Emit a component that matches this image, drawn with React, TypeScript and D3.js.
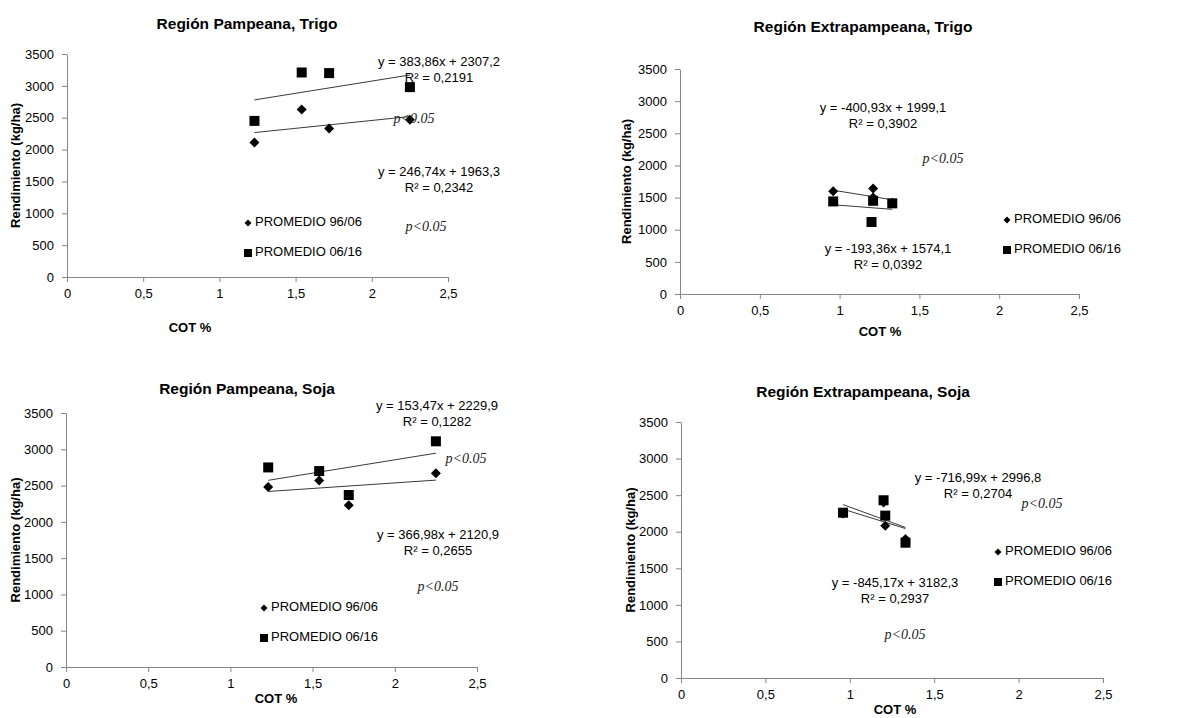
import * as d3 from "d3";
import { useEffect, useRef } from "react";

// axis ticks shared by the four panels
const xTicks = [0, 0.5, 1, 1.5, 2, 2.5];
const xTickLabels = ["0", "0,5", "1", "1,5", "2", "2,5"];
const yTicks = [0, 500, 1000, 1500, 2000, 2500, 3000, 3500];

const titles = [
  "Región Pampeana, Trigo",
  "Región Extrapampeana, Trigo",
  "Región Pampeana, Soja",
  "Región Extrapampeana, Soja",
];
const seriesNames = ["PROMEDIO 96/06", "PROMEDIO 06/16"];

// COT % per point (96/06 and 06/16)
const cot9606 = [
  [1.23, 1.54, 1.72, 2.25],
  [0.96, 1.21, 1.21, 1.33],
  [1.23, 1.54, 1.72, 2.25],
  [0.96, 1.21, 1.2, 1.33],
];
const cot0616 = [
  [1.23, 1.54, 1.72, 2.25],
  [0.96, 1.21, 1.2, 1.33],
  [1.23, 1.54, 1.72, 2.25],
  [0.96, 1.2, 1.21, 1.33],
];
// rendimiento kg/ha
const rend9606 = [
  [2110, 2630, 2330, 2470],
  [1600, 1640, 1500, 1420],
  [2480, 2570, 2230, 2670],
  [2250, 2080, 2400, 1900],
];
const rend0616 = [
  [2450, 3210, 3200, 2980],
  [1440, 1450, 1120, 1410],
  [2750, 2700, 2370, 3110],
  [2260, 2430, 2220, 1850],
];

// linear trend lines (slope, intercept) for each series
const slope9606 = [246.74, -400.93, 153.47, -716.99];
const inter9606 = [1963.3, 1999.1, 2229.9, 2996.8];
const slope0616 = [383.86, -193.36, 366.98, -845.17];
const inter0616 = [2307.2, 1574.1, 2120.9, 3182.3];

// equation labels, top one first
const eqTop = ["y = 383,86x + 2307,2", "y = -400,93x + 1999,1", "y = 153,47x + 2229,9", "y = -716,99x + 2996,8"];
const r2Top = ["R² = 0,2191", "R² = 0,3902", "R² = 0,1282", "R² = 0,2704"];
const eqBottom = ["y = 246,74x + 1963,3", "y = -193,36x + 1574,1", "y = 366,98x + 2120,9", "y = -845,17x + 3182,3"];
const r2Bottom = ["R² = 0,2342", "R² = 0,0392", "R² = 0,2655", "R² = 0,2937"];

// page layout of each panel
const layout = [
  {
    left: 67, right: 448, top: 54, bottom: 277,
    title: [247, 25], yTitleX: 17, xTitle: [190, 329],
    eqTop: [439, 63], eqBottom: [439, 173], pTop: [414, 120], pBottom: [426, 228],
    legend: [248, 223],
  },
  {
    left: 680, right: 1079, top: 69, bottom: 294,
    title: [863, 28], yTitleX: 628, xTitle: [880, 333],
    eqTop: [883, 109], eqBottom: [888, 250], pTop: [943, 160], pBottom: null,
    legend: [1007, 220],
  },
  {
    left: 66, right: 477, top: 413, bottom: 667,
    title: [247, 390], yTitleX: 17, xTitle: [276, 700],
    eqTop: [437, 407], eqBottom: [438, 536], pTop: [466, 460], pBottom: [438, 588],
    legend: [264, 608],
  },
  {
    left: 681, right: 1103, top: 422, bottom: 678,
    title: [863, 393], yTitleX: 632, xTitle: [895, 711],
    eqTop: [978, 479], eqBottom: [895, 584], pTop: [1042, 505], pBottom: [905, 636],
    legend: [998, 552],
  },
];

const FONT = "'Liberation Sans', Arial, sans-serif";
const diamondPath = (r) => `M0,${-r}L${r},0L0,${r}L${-r},0Z`;

const App = () => {
  const ref = useRef(null);

  useEffect(() => {
    const svg = d3.select(ref.current);
    svg.selectAll("*").remove();
    svg.append("rect").attr("width", 1190).attr("height", 718).attr("fill", "#fff");

    layout.forEach((L, i) => {
      const g = svg.append("g");
      const x = d3.scaleLinear().domain([0, 2.5]).range([L.left, L.right]);
      const y = d3.scaleLinear().domain([0, 3500]).range([L.bottom, L.top]);

      // Y axis
      const ya = g
        .append("g")
        .attr("transform", `translate(${L.left},0)`)
        .call(
          d3
            .axisLeft(y)
            .tickValues(yTicks)
            .tickSize(5)
            .tickSizeOuter(0)
            .tickPadding(8)
            .tickFormat((d) => String(d))
        );
      // X axis
      const xa = g
        .append("g")
        .attr("transform", `translate(0,${L.bottom})`)
        .call(
          d3
            .axisBottom(x)
            .tickValues(xTicks)
            .tickSize(5)
            .tickSizeOuter(0)
            .tickPadding(7)
            .tickFormat((d, j) => xTickLabels[j])
        );
      [ya, xa].forEach((a) => {
        a.select(".domain").attr("stroke", "#868686");
        a.selectAll("line").attr("stroke", "#868686");
        a.selectAll("text").attr("fill", "#000").style("font-size", "13px").style("font-family", FONT);
      });

      // titles
      g.append("text")
        .attr("x", L.title[0])
        .attr("y", L.title[1])
        .attr("text-anchor", "middle")
        .attr("dominant-baseline", "middle")
        .style("font", `bold 15.5px ${FONT}`)
        .text(titles[i]);
      g.append("text")
        .attr("transform", `translate(${L.yTitleX},${(L.top + L.bottom) / 2}) rotate(-90)`)
        .attr("text-anchor", "middle")
        .attr("dominant-baseline", "middle")
        .style("font", `bold 13px ${FONT}`)
        .text("Rendimiento (kg/ha)");
      g.append("text")
        .attr("x", L.xTitle[0])
        .attr("y", L.xTitle[1])
        .attr("text-anchor", "middle")
        .attr("dominant-baseline", "middle")
        .style("font", `bold 13px ${FONT}`)
        .text("COT %");

      // trend lines
      const trends = [
        { xs: cot9606[i], m: slope9606[i], b: inter9606[i] },
        { xs: cot0616[i], m: slope0616[i], b: inter0616[i] },
      ];
      trends.forEach((t) => {
        const [x0, x1] = d3.extent(t.xs);
        g.append("line")
          .attr("x1", x(x0))
          .attr("y1", y(t.m * x0 + t.b))
          .attr("x2", x(x1))
          .attr("y2", y(t.m * x1 + t.b))
          .attr("stroke", "#3a3a3a")
          .attr("stroke-width", 1);
      });

      // points 06/16 (squares) then 96/06 (diamonds)
      g.append("g")
        .selectAll("rect")
        .data(d3.zip(cot0616[i], rend0616[i]))
        .join("rect")
        .attr("x", (d) => x(d[0]) - 5)
        .attr("y", (d) => y(d[1]) - 5)
        .attr("width", 10)
        .attr("height", 10)
        .attr("fill", "#000");
      g.append("g")
        .selectAll("path")
        .data(d3.zip(cot9606[i], rend9606[i]))
        .join("path")
        .attr("transform", (d) => `translate(${x(d[0])},${y(d[1])})`)
        .attr("d", diamondPath(5))
        .attr("fill", "#000");

      // equations
      const eq = (pos, lines) =>
        lines.forEach((s, k) =>
          g.append("text")
            .attr("x", pos[0])
            .attr("y", pos[1] + k * 16)
            .attr("text-anchor", "middle")
            .attr("dominant-baseline", "middle")
            .style("font", `13px ${FONT}`)
            .text(s)
        );
      eq(L.eqTop, [eqTop[i], r2Top[i]]);
      eq(L.eqBottom, [eqBottom[i], r2Bottom[i]]);
      [L.pTop, L.pBottom].filter(Boolean).forEach((p) =>
        g.append("text")
          .attr("x", p[0])
          .attr("y", p[1])
          .attr("text-anchor", "middle")
          .attr("dominant-baseline", "middle")
          .style("font", "italic 14px 'Liberation Serif', 'Times New Roman', serif")
          .attr("fill", "#222")
          .text("p<0.05")
      );

      // legend
      const [lx, ly] = L.legend;
      g.append("path").attr("transform", `translate(${lx},${ly})`).attr("d", diamondPath(3.5)).attr("fill", "#000");
      g.append("rect").attr("x", lx - 4).attr("y", ly + 30 - 4).attr("width", 8).attr("height", 8).attr("fill", "#000");
      seriesNames.forEach((s, k) =>
        g.append("text")
          .attr("x", lx + 7)
          .attr("y", ly + k * 30)
          .attr("dominant-baseline", "middle")
          .style("font", `13px ${FONT}`)
          .text(s)
      );
    });
  }, []);

  return (
    <div style={{ position: "absolute", left: 0, top: 0 }}>
      <svg ref={ref} width={1190} height={718} style={{ display: "block" }} />
    </div>
  );
};

export default App;
